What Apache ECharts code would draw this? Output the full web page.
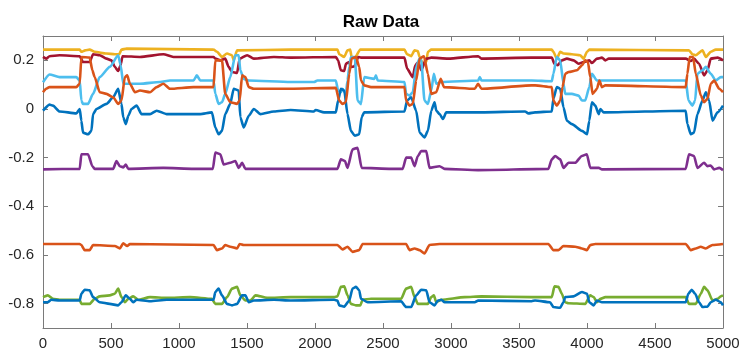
<!DOCTYPE html>
<html>
<head>
<meta charset="utf-8">
<title>Raw Data</title>
<script src="https://cdn.jsdelivr.net/npm/echarts@6/dist/echarts.min.js"></script>
<style>
html, body { margin: 0; padding: 0; background: #fff; }
#chart { width: 747px; height: 362px; }
</style>
</head>
<body>
<div id="chart"></div>
<script>
// x ticks / y ticks
var xTicks = [0, 500, 1000, 1500, 2000, 2500, 3000, 3500, 4000, 4500, 5000];
var yTicks = [-0.8, -0.6, -0.4, -0.2, 0, 0.2];

// each series: [sample index, value]
var blueTop = [[0,-0.007],[48,0.018],[73,0.014],[122,-0.010],[245,-0.018],[270,0.000],[282,-0.048],[294,-0.097],[331,-0.104],[356,-0.090],[368,-0.021],[393,0.000],[467,0.021],[516,0.048],[553,0.083],[577,0.021],[590,-0.034],[609,-0.062],[627,-0.028],[651,0.000],[688,0.014],[725,-0.021],[787,-0.021],[836,-0.007],[910,-0.021],[1156,-0.021],[1242,-0.014],[1267,-0.076],[1291,-0.104],[1316,-0.090],[1340,-0.021],[1377,0.021],[1402,0.083],[1439,0.076],[1451,-0.034],[1476,-0.076],[1513,-0.028],[1550,0.000],[1599,-0.021],[1698,-0.010],[1821,-0.004],
  [1993,-0.010],[2005,-0.004],[2067,-0.014],[2153,-0.014],[2170,0.035],[2190,0.083],[2215,0.076],[2239,-0.021],[2264,-0.090],[2293,-0.110],[2325,-0.104],[2343,-0.034],[2362,-0.014],[2658,-0.010],[2677,0.035],[2707,0.048],[2744,-0.007],[2769,-0.097],[2805,-0.117],[2830,-0.090],[2855,-0.007],[2879,0.028],[2892,-0.007],[2916,-0.021],[2941,-0.041],[2965,-0.014],[3224,-0.014],[3544,-0.010],[3569,-0.018],[3618,-0.014],
  [3741,-0.010],[3753,0.042],[3778,0.090],[3803,0.083],[3827,0.007],[3852,-0.048],[3889,-0.062],[3963,-0.090],[4000,-0.104],[4017,-0.048],[4036,0.028],[4061,0.014],[4086,-0.021],[4098,0.000],[4123,-0.014],[4726,-0.007],[4738,-0.062],[4763,-0.104],[4787,-0.097],[4812,-0.021],[4849,0.035],[4874,0.069],[4898,0.035],[4923,-0.048],[4960,-0.014],[5000,0.014]];

var orangeTop = [[0,0.069],[23,0.083],[48,0.090],[245,0.090],[270,0.104],[282,0.214],[343,0.211],[363,0.159],[380,0.131],[417,0.069],[467,0.062],[516,0.048],[553,0.021],[577,0.035],[602,0.131],[619,0.138],[639,0.104],[676,0.069],[713,0.076],[787,0.069],[836,0.090],[885,0.104],[934,0.083],[1107,0.090],[1254,0.090],[1267,0.200],[1316,0.200],[1340,0.062],[1377,0.028],[1427,0.021],[1446,0.035],[1464,0.138],[1488,0.131],[1513,0.090],[1550,0.083],[1821,0.083],
  [2153,0.087],[2178,0.035],[2202,0.021],[2227,0.028],[2252,0.145],[2269,0.207],[2301,0.214],[2325,0.173],[2338,0.117],[2362,0.097],[2412,0.090],[2658,0.090],[2670,0.035],[2695,0.014],[2719,0.021],[2744,0.117],[2769,0.207],[2801,0.217],[2830,0.145],[2855,0.062],[2892,0.069],[2924,0.124],[2948,0.090],[3175,0.083],[3199,0.104],[3224,0.083],[3593,0.097],
  [3618,0.097],[3741,0.090],[3753,0.035],[3778,0.014],[3803,0.035],[3820,0.090],[3840,0.145],[3864,0.152],[3926,0.159],[3963,0.180],[3987,0.200],[4007,0.193],[4024,0.131],[4041,0.062],[4073,0.083],[4091,0.117],[4110,0.090],[4135,0.097],[4726,0.090],[4738,0.145],[4755,0.214],[4780,0.214],[4800,0.145],[4837,0.055],[4861,0.028],[4886,0.042],[4910,0.104],[4935,0.117],[4972,0.083],[5000,0.069]];

var yellow = [[0,0.244],[270,0.244],[282,0.235],[310,0.241],[343,0.244],[380,0.235],[467,0.228],[528,0.225],[560,0.225],[577,0.244],[615,0.248],[1254,0.244],[1280,0.235],[1316,0.214],[1353,0.228],[1390,0.221],[1402,0.200],[1427,0.241],[1821,0.244],
  [2165,0.244],[2178,0.225],[2215,0.214],[2239,0.241],[2259,0.244],[2269,0.214],[2293,0.211],[2333,0.244],[2658,0.244],[2677,0.225],[2707,0.217],[2732,0.241],[2756,0.238],[2769,0.214],[2793,0.186],[2818,0.193],[2830,0.235],[2855,0.244],[3741,0.244],
  [3753,0.235],[3778,0.207],[3803,0.235],[3827,0.228],[3889,0.225],[3950,0.221],[3975,0.207],[4000,0.235],[4017,0.244],[4750,0.241],[4775,0.225],[4800,0.221],[4849,0.241],[4874,0.214],[4910,0.235],[4947,0.244],[5000,0.244]];

var darkRed = [[0,0.214],[23,0.207],[48,0.217],[122,0.221],[270,0.217],[294,0.193],[343,0.193],[368,0.225],[417,0.221],[467,0.207],[503,0.200],[528,0.173],[553,0.156],[570,0.180],[585,0.217],[713,0.214],[885,0.225],[959,0.214],[1254,0.214],[1267,0.207],[1304,0.200],[1340,0.207],[1365,0.173],[1390,0.152],[1427,0.148],[1446,0.207],[1501,0.221],[1550,0.207],[1698,0.214],[1821,0.211],
  [2153,0.214],[2170,0.200],[2190,0.159],[2215,0.156],[2227,0.186],[2252,0.193],[2264,0.173],[2289,0.175],[2318,0.214],[2338,0.211],[2658,0.211],[2677,0.166],[2719,0.131],[2737,0.180],[2761,0.193],[2781,0.159],[2818,0.207],[2855,0.211],[2978,0.207],[3200,0.217],[3224,0.207],[3593,0.211],
  [3741,0.211],[3761,0.186],[3785,0.180],[3815,0.200],[3852,0.207],[3901,0.200],[3938,0.186],[3975,0.193],[4017,0.200],[4036,0.189],[4073,0.207],[4110,0.211],[4135,0.200],[4160,0.207],[4726,0.207],[4763,0.197],[4787,0.207],[4824,0.186],[4861,0.138],[4886,0.159],[4910,0.207],[4960,0.211],[5000,0.200]];

var lightBlue = [[0,0.110],[48,0.142],[122,0.131],[245,0.131],[270,0.117],[282,0.035],[294,0.021],[331,0.021],[368,0.062],[417,0.131],[491,0.173],[553,0.221],[571,0.180],[590,0.104],[713,0.104],[860,0.111],[934,0.117],[1107,0.117],[1131,0.138],[1156,0.117],[1254,0.117],[1267,0.062],[1291,0.021],[1316,0.028],[1340,0.062],[1377,0.131],[1414,0.221],[1439,0.221],[1451,0.159],[1476,0.124],[1513,0.117],[1821,0.111],
  [1993,0.111],[2018,0.117],[2153,0.117],[2170,0.076],[2190,0.069],[2202,0.083],[2227,0.062],[2239,0.117],[2252,0.173],[2264,0.214],[2293,0.214],[2313,0.035],[2338,0.020],[2362,0.131],[2436,0.124],[2448,0.138],[2461,0.117],[2658,0.111],[2670,0.062],[2695,0.055],[2719,0.069],[2744,0.173],[2769,0.207],[2781,0.200],[2805,0.035],[2830,0.021],[2855,0.076],[2874,0.145],[2892,0.104],[2929,0.111],[3200,0.117],[3212,0.131],[3224,0.117],[3593,0.117],
  [3741,0.114],[3753,0.145],[3778,0.214],[3803,0.200],[3827,0.104],[3840,0.062],[3889,0.062],[3938,0.055],[3963,0.035],[3987,0.035],[4017,0.090],[4036,0.145],[4073,0.117],[4110,0.117],[4726,0.117],[4746,0.035],[4775,0.014],[4795,0.035],[4812,0.145],[4849,0.159],[4874,0.173],[4910,0.145],[4947,0.117],[4984,0.131],[5000,0.131]];

var purple = [[0,-0.248],[270,-0.246],[282,-0.186],[331,-0.186],[363,-0.235],[380,-0.246],[516,-0.246],[540,-0.214],[565,-0.235],[590,-0.240],[609,-0.228],[627,-0.246],[885,-0.242],[1107,-0.246],[1249,-0.246],[1267,-0.179],[1304,-0.186],[1328,-0.228],[1377,-0.221],[1414,-0.214],[1439,-0.242],[1464,-0.221],[1488,-0.246],
  [2165,-0.246],[2190,-0.207],[2220,-0.214],[2239,-0.242],[2276,-0.166],[2313,-0.159],[2343,-0.242],[2559,-0.246],[2645,-0.246],[2670,-0.200],[2707,-0.200],[2732,-0.235],[2756,-0.193],[2781,-0.173],[2818,-0.173],[2842,-0.242],[2916,-0.235],[2953,-0.246],[3199,-0.251],
  [3716,-0.246],[3741,-0.207],[3766,-0.193],[3803,-0.207],[3827,-0.242],[3864,-0.221],[3913,-0.221],[3962,-0.193],[3999,-0.186],[4024,-0.242],[4086,-0.242],[4110,-0.248],[4726,-0.246],[4750,-0.186],[4787,-0.193],[4812,-0.242],[4861,-0.221],[4886,-0.235],[4910,-0.232],[4935,-0.248],[4972,-0.242],[5000,-0.251]];

var orangeLow = [[0,-0.555],[270,-0.555],[282,-0.559],[306,-0.580],[343,-0.580],[368,-0.559],[528,-0.563],[565,-0.573],[590,-0.552],[619,-0.563],[639,-0.555],[1254,-0.559],[1279,-0.580],[1316,-0.573],[1340,-0.559],[1377,-0.566],[1427,-0.573],[1446,-0.555],[1476,-0.559],
  [2165,-0.559],[2202,-0.577],[2239,-0.566],[2276,-0.587],[2325,-0.580],[2350,-0.555],[2670,-0.555],[2695,-0.580],[2732,-0.573],[2768,-0.580],[2805,-0.594],[2842,-0.559],[2916,-0.555],
  [3716,-0.555],[3753,-0.580],[3790,-0.580],[3827,-0.563],[3913,-0.566],[3962,-0.573],[3999,-0.580],[4024,-0.559],[4061,-0.555],[4726,-0.555],[4763,-0.580],[4800,-0.573],[4836,-0.566],[4873,-0.573],[4923,-0.559],[5000,-0.555]];

var green = [[0,-0.773],[35,-0.766],[73,-0.780],[122,-0.784],[270,-0.784],[282,-0.801],[343,-0.801],[380,-0.780],[417,-0.770],[491,-0.766],[528,-0.759],[553,-0.738],[577,-0.773],[602,-0.794],[627,-0.780],[663,-0.770],[700,-0.784],[787,-0.773],[910,-0.776],[1082,-0.773],[1242,-0.780],[1267,-0.801],[1316,-0.801],[1353,-0.773],[1390,-0.738],[1427,-0.731],[1451,-0.766],[1488,-0.787],[1525,-0.787],[1562,-0.766],[1648,-0.776],[1821,-0.773],
  [2141,-0.773],[2165,-0.770],[2190,-0.731],[2215,-0.729],[2239,-0.766],[2264,-0.801],[2301,-0.807],[2333,-0.807],[2350,-0.784],[2412,-0.780],[2633,-0.780],[2670,-0.738],[2707,-0.731],[2732,-0.773],[2756,-0.801],[2830,-0.801],[2855,-0.773],[2874,-0.766],[2892,-0.794],[2929,-0.784],[3101,-0.773],[3224,-0.770],[3593,-0.773],
  [3741,-0.773],[3761,-0.729],[3790,-0.731],[3815,-0.759],[3839,-0.794],[3864,-0.798],[3987,-0.801],[4024,-0.766],[4049,-0.773],[4073,-0.794],[4098,-0.780],[4135,-0.773],[4726,-0.773],[4750,-0.801],[4800,-0.801],[4837,-0.759],[4861,-0.731],[4886,-0.745],[4923,-0.787],[4960,-0.780],[4984,-0.770],[5000,-0.766]];

var blueLow = [[0,-0.794],[35,-0.794],[60,-0.784],[122,-0.787],[270,-0.787],[282,-0.759],[306,-0.743],[343,-0.745],[368,-0.773],[417,-0.794],[491,-0.801],[553,-0.807],[577,-0.794],[609,-0.766],[639,-0.780],[663,-0.794],[688,-0.784],[787,-0.790],[910,-0.784],[1254,-0.784],[1267,-0.752],[1291,-0.738],[1316,-0.766],[1353,-0.801],[1390,-0.807],[1427,-0.801],[1464,-0.766],[1488,-0.766],[1513,-0.794],[1550,-0.787],[1698,-0.784],[1821,-0.787],
  [2141,-0.784],[2165,-0.787],[2178,-0.807],[2215,-0.812],[2252,-0.787],[2276,-0.738],[2301,-0.731],[2325,-0.745],[2338,-0.780],[2387,-0.794],[2633,-0.790],[2670,-0.814],[2707,-0.814],[2744,-0.766],[2781,-0.743],[2818,-0.745],[2842,-0.794],[2879,-0.807],[2904,-0.787],[2929,-0.784],[2953,-0.794],[3175,-0.794],[3200,-0.787],[3593,-0.790],
  [3618,-0.787],[3728,-0.794],[3753,-0.814],[3802,-0.817],[3827,-0.794],[3839,-0.773],[3901,-0.770],[3963,-0.752],[4000,-0.759],[4017,-0.794],[4049,-0.807],[4073,-0.787],[4110,-0.794],[4726,-0.794],[4745,-0.759],[4770,-0.743],[4795,-0.759],[4824,-0.794],[4849,-0.814],[4886,-0.812],[4910,-0.794],[4947,-0.784],[4984,-0.794],[5000,-0.807]];

var frameColor = '#7a7a7a';
var labelStyle = { color: '#262626', fontSize: 15, fontFamily: 'Liberation Sans, Arial, sans-serif' };

function line(name, data, color){
	return {
		name: name,
		type: 'line',
		data: data,
		showSymbol: false,
		smooth: 0.2,
		smoothMonotone: 'x',
		animation: false,
		lineStyle: { color: color, width: 2.6 },
		itemStyle: { color: color }
	};
}

var option = {
	animation: false,
	title: {
		text: 'Raw Data',
		left: 376,
		top: 9,
		textAlign: 'center',
		textStyle: { fontSize: 17, fontWeight: 'bold', color: '#000', fontFamily: 'Liberation Sans, Arial, sans-serif' }
	},
	grid: { left: 43, right: 24, top: 36, bottom: 34, containLabel: false },
	xAxis: [
		{
			type: 'value', min: 0, max: 5000, interval: 500,
			axisLine: { show: true, onZero: false, lineStyle: { color: frameColor } },
			axisTick: { inside: true, length: 5, lineStyle: { color: frameColor } },
			axisLabel: Object.assign({
				margin: 8,
				customValues: xTicks,
				formatter: function (v) { return String(v); }
			}, labelStyle),
			splitLine: { show: false }
		},
		{
			type: 'value', position: 'top', min: 0, max: 5000, interval: 500,
			axisLine: { show: true, onZero: false, lineStyle: { color: frameColor } },
			axisTick: { inside: true, length: 5, lineStyle: { color: frameColor } },
			axisLabel: { show: false },
			splitLine: { show: false }
		}
	],
	yAxis: [
		{
			type: 'value', min: -0.9, max: 0.3, interval: 0.1,
			axisLine: { show: true, onZero: false, lineStyle: { color: frameColor } },
			axisTick: { inside: true, length: 5, customValues: yTicks, lineStyle: { color: frameColor } },
			axisLabel: Object.assign({ margin: 9, customValues: yTicks }, labelStyle),
			splitLine: { show: false }
		},
		{
			type: 'value', position: 'right', min: -0.9, max: 0.3, interval: 0.1,
			axisLine: { show: true, onZero: false, lineStyle: { color: frameColor } },
			axisTick: { inside: true, length: 5, customValues: yTicks, lineStyle: { color: frameColor } },
			axisLabel: { show: false },
			splitLine: { show: false }
		}
	],
	series: [
		line('s5', green, '#77AC30'),
		line('s1', blueLow, '#0072BD'),
		line('s2', orangeLow, '#D95319'),
		line('s4', purple, '#7E2F8E'),
		line('s3', yellow, '#EDB120'),
		line('s7', darkRed, '#A2142F'),
		line('s6', lightBlue, '#4DBEEE'),
		line('s8', blueTop, '#0072BD'),
		line('s9', orangeTop, '#D95319')
	]
};

var chart = echarts.init(document.getElementById('chart'));
chart.setOption(option);
</script>
</body>
</html>
